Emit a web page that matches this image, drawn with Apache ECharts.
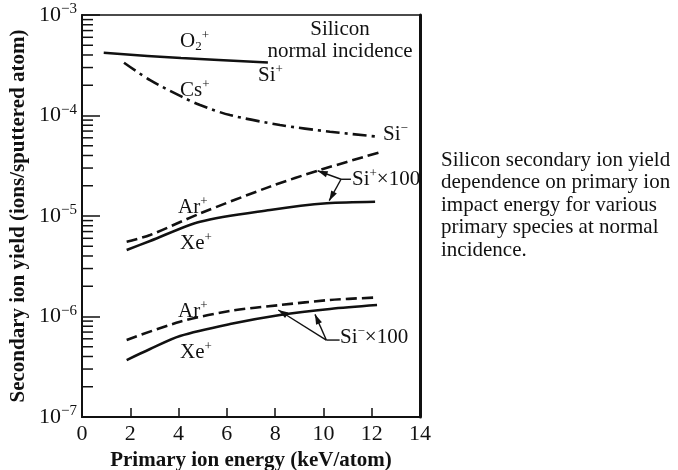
<!DOCTYPE html>
<html><head><meta charset="utf-8">
<script src="https://cdn.jsdelivr.net/npm/echarts@6/dist/echarts.min.js"></script>
<style>html,body{margin:0;padding:0;background:#fff}#c{width:678px;height:470px}</style>
</head><body><div id="c"></div>
<script>
// ---- tick data ----
const xTicks = [0, 2, 4, 6, 8, 10, 12, 14];
const yTickExps = [-7, -6, -5, -4, -3];
const minorMult = [2, 3, 4, 5, 6, 7, 8, 9];

// ---- series data (x: keV/atom, y: ions/sputtered atom) ----
const o2X = [0.9, 4.1, 7.7];
const o2Y = [4.2e-4, 3.73e-4, 3.37e-4];
const csX = [1.74, 2.82, 4.13, 4.89, 6.13, 8.2, 10.27, 12.26];
const csY = [3.35e-4, 2.25e-4, 1.54e-4, 1.27e-4, 1.01e-4, 8.04e-5, 6.9e-5, 6.15e-5];
const siPlusArX = [1.85, 2.82, 4.89, 7.79, 9.86, 12.42];
const siPlusArY = [5.55e-6, 6.47e-6, 1.06e-5, 1.96e-5, 2.87e-5, 4.36e-5];
const siPlusXeX = [1.85, 2.82, 4.89, 7.79, 10.14, 12.14];
const siPlusXeY = [4.59e-6, 5.64e-6, 8.78e-6, 1.15e-5, 1.34e-5, 1.39e-5];
const siMinusArX = [1.85, 4.06, 6.13, 8.2, 10.27, 12.07];
const siMinusArY = [5.84e-7, 8.87e-7, 1.135e-6, 1.30e-6, 1.46e-6, 1.54e-6];
const siMinusXeX = [1.85, 2.82, 4.06, 6.13, 8.2, 10.27, 12.22];
const siMinusXeY = [3.69e-7, 4.75e-7, 6.4e-7, 8.41e-7, 1.035e-6, 1.19e-6, 1.30e-6];

const zip = (xs, ys) => xs.map((x, i) => [x, ys[i]]);
const FONT = 'Liberation Serif';
const INK = '#111';

const minorTickVals = [];
yTickExps.slice(0, -1).forEach(e => minorMult.forEach(m => minorTickVals.push([0, m * Math.pow(10, e)])));

// annotation leader lines: [x1, y1, x2, y2, arrowhead]
const upJ = [10.73, 2.32e-5], loJ = [10.12, 5.83e-7];
const leaders = [
  [upJ[0], upJ[1], 9.76, 2.82e-5, 1],
  [upJ[0], upJ[1], 10.24, 1.42e-5, 1],
  [upJ[0], upJ[1], 11.14, upJ[1], 0],
  [loJ[0], loJ[1], 8.13, 1.16e-6, 1],
  [loJ[0], loJ[1], 9.65, 1.05e-6, 1],
  [loJ[0], loJ[1], 10.67, loJ[1], 0]
];

const chart = echarts.init(document.getElementById('c'), null, {renderer: 'canvas'});

function lineSeries(name, data, type, width) {
  return {
    name, type: 'line', data, smooth: 0.3, showSymbol: false, symbol: 'none',
    lineStyle: {color: INK, width: width || 2.5, type: type || 'solid'},
    animation: false, silent: true, z: 3
  };
}

const series = [
  lineSeries('O2+', zip(o2X, o2Y), 'solid', 2.5),
  lineSeries('Cs+', zip(csX, csY), [14, 5, 3, 5], 2.6),
  lineSeries('Si+ Ar+', zip(siPlusArX, siPlusArY), [11, 5], 2.6),
  lineSeries('Si+ Xe+', zip(siPlusXeX, siPlusXeY), 'solid', 2.5),
  lineSeries('Si- Ar+', zip(siMinusArX, siMinusArY), [11, 5], 2.6),
  lineSeries('Si- Xe+', zip(siMinusXeX, siMinusXeY), 'solid', 2.5),
  {
    type: 'custom', data: minorTickVals, silent: true, animation: false, clip: false, z: 4,
    renderItem: (params, api) => {
      const p = api.coord([api.value(0), api.value(1)]);
      return {type: 'line', shape: {x1: p[0], y1: p[1], x2: p[0] + 11, y2: p[1]},
              style: {stroke: INK, lineWidth: 1.5}};
    }
  },
  {
    type: 'custom', data: leaders, silent: true, animation: false, clip: false, z: 5,
    dimensions: ['x1', 'y1', 'x2', 'y2', 'h'],
    encode: {x: [0, 2], y: [1, 3]},
    renderItem: (params, api) => {
      const a = api.coord([api.value(0), api.value(1)]);
      const b = api.coord([api.value(2), api.value(3)]);
      const children = [{type: 'line', shape: {x1: a[0], y1: a[1], x2: b[0], y2: b[1]},
                         style: {stroke: INK, lineWidth: 1.4}}];
      if (api.value(4)) {
        const dx = b[0] - a[0], dy = b[1] - a[1], L = Math.hypot(dx, dy);
        const ux = dx / L, uy = dy / L, len = 10, hw = 3.2;
        const bx = b[0] - ux * len, by = b[1] - uy * len;
        children.push({type: 'polygon',
          shape: {points: [[b[0], b[1]], [bx - uy * hw, by + ux * hw], [bx + uy * hw, by - ux * hw]]},
          style: {fill: INK}});
      }
      return {type: 'group', children};
    }
  }
];

const richBase = {
  m: {fontFamily: FONT, fontSize: 21, lineHeight: 24, color: INK},
  sup: {fontFamily: FONT, fontSize: 13, lineHeight: 12, verticalAlign: 'top', color: INK},
  sub: {fontFamily: FONT, fontSize: 13, lineHeight: 12, verticalAlign: 'bottom', color: INK}
};
function label(x, y, text, align) {
  return {type: 'text', x, y, silent: true, z: 10,
    style: {text, rich: richBase, align: align || 'left', verticalAlign: 'middle',
            font: '21px "' + FONT + '"', fill: INK}};
}

const graphic = [
  label(180, 41, '{m|O}{sub|2}{sup|+}'),
  label(258, 75, '{m|Si}{sup|+}'),
  label(180, 90, '{m|Cs}{sup|+}'),
  label(383, 134, '{m|Si}{sup|−}'),
  label(340, 29, '{m|Silicon}', 'center'),
  label(340, 51, '{m|normal incidence}', 'center'),
  label(178, 207, '{m|Ar}{sup|+}'),
  label(180, 243, '{m|Xe}{sup|+}'),
  label(352, 179, '{m|Si}{sup|+}{m|×100}'),
  label(178, 311, '{m|Ar}{sup|+}'),
  label(180, 352, '{m|Xe}{sup|+}'),
  label(340, 337, '{m|Si}{sup|−}{m|×100}'),
  {type: 'text', x: 441, y: 149, silent: true,
   style: {text: 'Silicon secondary ion yield\ndependence on primary ion\nimpact energy for various\nprimary species at normal\nincidence.',
           font: '21px "' + FONT + '"', fill: INK, lineHeight: 22.5, align: 'left', verticalAlign: 'top'}}
];

chart.setOption({
  animation: false,
  backgroundColor: '#fff',
  grid: {left: 82, top: 15, width: 338, height: 402, show: true, borderColor: INK, borderWidth: 1.5,
         containLabel: false, outerBoundsMode: 'none'},
  xAxis: {
    type: 'value', min: xTicks[0], max: xTicks[xTicks.length - 1], interval: xTicks[1] - xTicks[0],
    name: 'Primary ion energy (keV/atom)', nameLocation: 'middle', nameGap: 29,
    nameTextStyle: {fontFamily: FONT, fontWeight: 'bold', fontSize: 21, color: INK},
    axisLine: {lineStyle: {color: INK, width: 2}},
    axisTick: {inside: true, length: 9, lineStyle: {color: INK, width: 1.5}},
    axisLabel: {fontFamily: FONT, fontSize: 22, color: INK, margin: 6},
    splitLine: {show: false}
  },
  yAxis: [{
    type: 'log', logBase: 10, min: Math.pow(10, yTickExps[0]), max: Math.pow(10, yTickExps[yTickExps.length - 1]),
    name: 'Secondary ion yield (ions/sputtered atom)', nameLocation: 'middle', nameGap: 53,
    nameTextStyle: {fontFamily: FONT, fontWeight: 'bold', fontSize: 21, color: INK},
    axisLine: {show: true, lineStyle: {color: INK, width: 2}},
    axisTick: {inside: true, length: 18, lineStyle: {color: INK, width: 1.5}},
    axisLabel: {
      margin: 5,
      formatter: v => '{b|10}{s|−' + (-Math.round(Math.log10(v))) + '}',
      rich: {
        b: {fontFamily: FONT, fontSize: 22, lineHeight: 26, color: INK},
        s: {fontFamily: FONT, fontSize: 15, lineHeight: 14, verticalAlign: 'top', color: INK}
      }
    },
    splitLine: {show: false}
  }, {
    type: 'log', logBase: 10, position: 'right',
    min: Math.pow(10, yTickExps[0]), max: Math.pow(10, yTickExps[yTickExps.length - 1]),
    axisLine: {show: true, lineStyle: {color: INK, width: 3}},
    axisTick: {show: false}, axisLabel: {show: false}, splitLine: {show: false}
  }],
  series,
  graphic
});
</script></body></html>
